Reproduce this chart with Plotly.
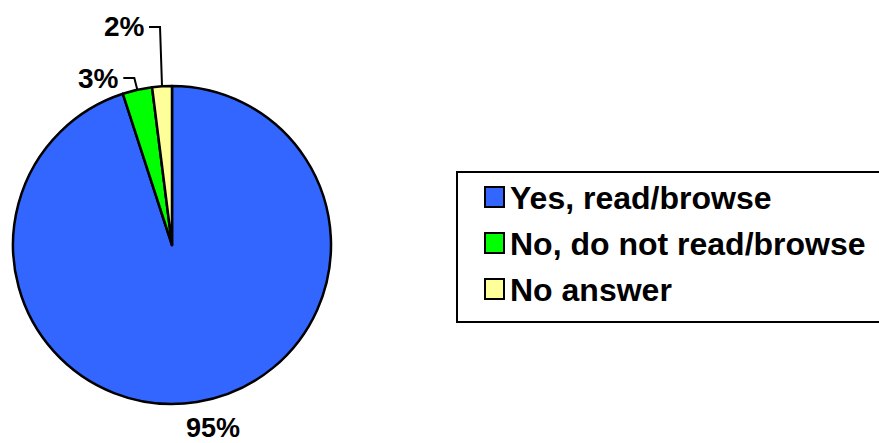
import math
import plotly.graph_objects as go

# Survey answers
categories = ["Yes, read/browse", "No, do not read/browse", "No answer"]
values = [95, 3, 2]
colors = ["#3366FF", "#00FF00", "#FFFF99"]

W, H = 879, 443
FONT = "Arial, Liberation Sans, sans-serif"

# Pie geometry in pixels
cx, cy, r = 172, 245, 159


def px(x):
    return x / W


def py(y):
    return 1 - y / H


fig = go.Figure(
    go.Pie(
        labels=categories,
        values=values,
        marker=dict(colors=colors, line=dict(color="black", width=2.5)),
        sort=False,
        direction="clockwise",
        rotation=0,
        textinfo="none",
        hoverinfo="label+percent",
        showlegend=False,
        domain=dict(x=[px(cx - r), px(cx + r)], y=[py(cy + r), py(cy - r)]),
    )
)

total = sum(values)
shapes = []
annotations = []

# Where each percentage label sits relative to its slice
label_style = [
    dict(kind="below", dx=16, dy=26),
    dict(kind="leader", ly=78, lean=3, stub=11),
    dict(kind="leader", ly=27, lean=2, stub=11),
]

cum = 0.0
for v, style in zip(values, label_style):
    mid = (cum + v / 2) / total * 2 * math.pi
    cum += v
    ex = cx + r * math.sin(mid)
    ey = cy - r * math.cos(mid)
    text = f"{v / total * 100:.0f}%"
    if style["kind"] == "below":
        annotations.append(dict(
            x=px(ex + style["dx"]), y=py(ey + style["dy"]), xref="paper", yref="paper",
            text=f"<b>{text}</b>", showarrow=False, xanchor="center", yanchor="middle",
            font=dict(family=FONT, size=27, color="black"),
        ))
    else:
        elx = ex - style["lean"]
        sx = elx - style["stub"]
        ly = style["ly"]
        shapes.append(dict(
            type="path", xref="paper", yref="paper",
            path=f"M {px(sx)} {py(ly)} L {px(elx)} {py(ly)} L {px(ex)} {py(ey)}",
            line=dict(color="black", width=2),
        ))
        annotations.append(dict(
            x=px(sx - 2), y=py(ly), xref="paper", yref="paper",
            text=f"<b>{text}</b>", showarrow=False, xanchor="right", yanchor="middle",
            font=dict(family=FONT, size=28, color="black"),
        ))

# Legend box
shapes.append(dict(
    type="rect", xref="paper", yref="paper",
    x0=px(457), x1=px(900), y0=py(322), y1=py(172),
    line=dict(color="black", width=2), fillcolor="white", layer="below",
))
row_y = [197, 243, 289]
for name, col, yy in zip(categories, colors, row_y):
    shapes.append(dict(
        type="rect", xref="paper", yref="paper",
        x0=px(485), x1=px(504), y0=py(yy + 10), y1=py(yy - 10),
        line=dict(color="black", width=2), fillcolor=col,
    ))
    annotations.append(dict(
        x=px(508), y=py(yy + 1), xref="paper", yref="paper",
        text=f"<b>{name}</b>", showarrow=False, xanchor="left", yanchor="middle",
        font=dict(family=FONT, size=32, color="black"),
    ))

fig.update_layout(
    width=W, height=H,
    margin=dict(l=0, r=0, t=0, b=0),
    paper_bgcolor="white",
    plot_bgcolor="white",
    shapes=shapes,
    annotations=annotations,
)

fig.write_html("out.html")
